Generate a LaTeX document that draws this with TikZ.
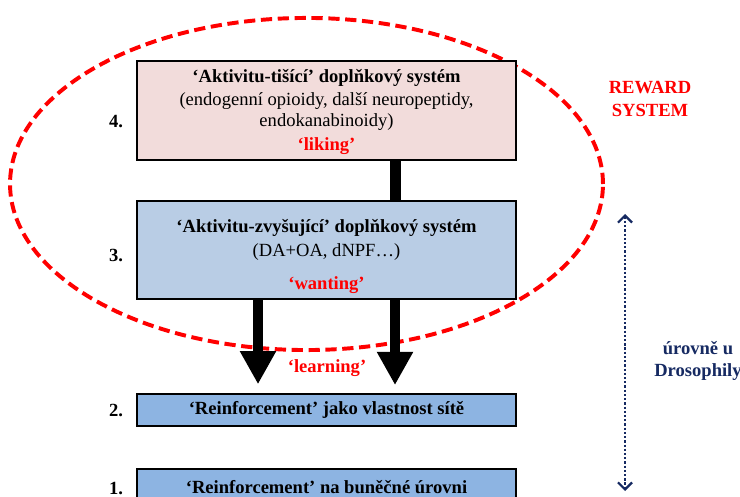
\documentclass[tikz,border=0pt]{standalone}
\usepackage{fontspec}
\setmainfont{Liberation Serif}
\usetikzlibrary{arrows.meta}

\definecolor{likingfill}{RGB}{242,220,219}
\definecolor{wantfill}{RGB}{185,205,229}
\definecolor{levelfill}{RGB}{141,180,226}
\definecolor{navy}{RGB}{22,42,98}

\begin{document}
\begin{tikzpicture}[
    x=0.025cm, y=-0.025cm,
    every node/.style={font=\fontsize{13.2}{15.8}\selectfont},
    box/.style={rectangle,draw=black,line width=1.3pt,minimum width=9.475cm,inner sep=0pt},
    txt/.style={inner sep=0pt},
    head/.style={txt,font=\fontsize{13.2}{15.8}\selectfont\bfseries},
    key/.style={head,text=red},
    num/.style={head},
    bar/.style={line width=0.275cm,black},
    fat/.style={line width=0.25cm,black,-{Triangle[width=0.85cm,length=0.83cm]}},
    lvl/.style={navy,line width=1.8pt,dash pattern=on 1.6pt off 1.4pt,{Straight Barb[length=5pt,width=10pt,line width=1.6pt]}-{Straight Barb[length=5pt,width=10pt,line width=1.6pt]}}
]
    \clip (0,0) rectangle (740,497);

    % reward system outline
    \draw[red,line width=2.8pt,dash pattern=on 8pt off 4pt] (306.5,184) ellipse [x radius=7.41cm, y radius=4.15cm];

    % level boxes
    \node[box,fill=likingfill,minimum height=2.475cm] (b4) at (326.5,110.5) {};
    \node[box,fill=wantfill,minimum height=2.45cm] (b3) at (326.5,250) {};
    \node[box,fill=levelfill,minimum height=0.8cm] (b2) at (326.5,410) {};
    \node[box,fill=levelfill,minimum height=0.8cm] (b1) at (326.5,485) {};

    % 4.
    \node[head] (t4a) at (326.5,78) {‘Aktivitu-tišící’ doplňkový systém};
    \node[txt] (t4b) at (326.5,101) {(endogenní opioidy, další neuropeptidy,};
    \node[txt] (t4c) at (326.5,122) {endokanabinoidy)};
    \node[key] (liking) at (326.5,146) {‘liking’};

    % 3.
    \node[head] (t3a) at (326.5,228) {‘Aktivitu-zvyšující’ doplňkový systém};
    \node[txt] (t3b) at (326.5,252) {(DA+OA, dNPF…)};
    \node[key] (wanting) at (326.5,285) {‘wanting’};

    % 2. and 1.
    \node[head] (t2) at (326.5,410) {‘Reinforcement’ jako vlastnost sítě};
    \node[head] (t1) at (326.5,487) {‘Reinforcement’ na buněčné úrovni};

    \node[num] (n4) at (116,122) {4.};
    \node[num] (n3) at (116,255) {3.};
    \node[num] (n2) at (116,410) {2.};
    \node[num] (n1) at (116,488) {1.};

    % connectors
    \coordinate (lx) at (258,0);
    \coordinate (rx) at (395,0);
    \draw[bar] (rx |- b4.south) -- (rx |- b3.north);
    \draw[fat,shorten >=0.22cm] (lx |- b3.south) -- (lx |- b2.north);
    \draw[fat,shorten >=0.2cm] (rx |- b3.south) -- (rx |- b2.north);
    \node[key] (learning) at (327,368) {‘learning’};

    % right side
    \node[key,align=center] (reward) at (650,99) {REWARD\\SYSTEM};
    \coordinate (ltop) at (625,214);
    \coordinate (lbot) at (625,491);
    \draw[lvl] (ltop) -- (lbot);
    \node[head,text=navy,align=center] (levels) at (698,361) {úrovně u\\Drosophily};
\end{tikzpicture}
\end{document}
